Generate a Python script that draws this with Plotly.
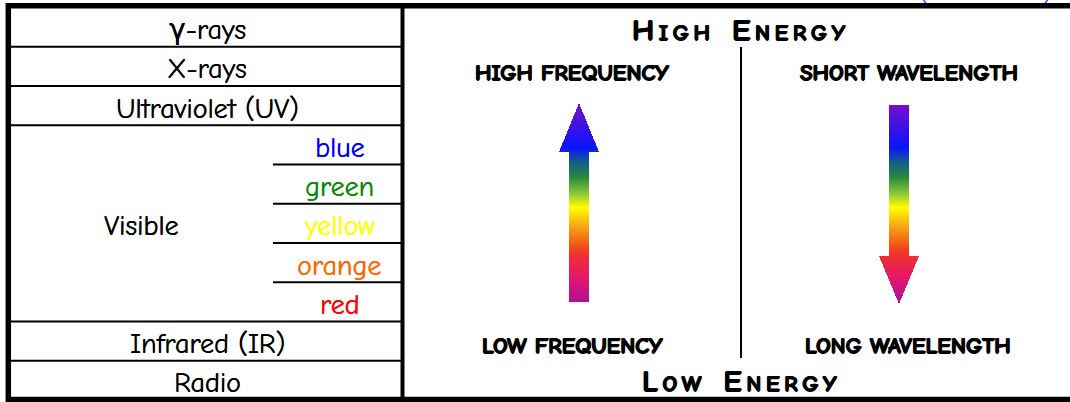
import numpy as np
import plotly.graph_objects as go

# ---------------- data ----------------
band_labels = ["γ-rays", "X-rays", "Ultraviolet (UV)", "Visible", "Infrared (IR)", "Radio"]
band_rows = [1, 1, 1, 5, 1, 1]          # number of table rows each band spans
visible_labels = ["blue", "green", "yellow", "orange", "red"]
visible_colors = ["#0000ff", "#0a8a0a", "#ffff00", "#ff6600", "#ff0000"]
top_title = "High Energy"
bottom_title = "Low Energy"
left_top, left_bottom = "HIGH FREQUENCY", "LOW FREQUENCY"
right_top, right_bottom = "SHORT WAVELENGTH", "LONG WAVELENGTH"
# rainbow gradient along arrows (position 0 = violet end, 1 = magenta end)
grad_pos = [0.0, 0.22, 0.30, 0.37, 0.45, 0.52, 0.62, 0.72, 0.76, 0.86, 1.0]
grad_col = ["#7a0fc8", "#0a14ff", "#165f8a", "#2a8a3c", "#8cc63a", "#ffff00",
            "#f8a010", "#f04a1c", "#ee3030", "#e81866", "#a8109f"]

W, H = 1070, 402
FONT = "Comic Sans MS, Comic Neue, DejaVu Sans"
BOLD_SHADOW = "0.7px 0 0 black, -0.7px 0 0 black, 0 0.5px 0 black"
SOFT_SHADOW = "0.35px 0 0 {c}"

fig = go.Figure()

# ---------------- gradient arrows (heatmaps masked to arrow shape) ----------------
def arrow_heatmap(cx, y_tail, y_base, y_tip, shaft_hw, head_hw):
    xs = np.arange(cx - head_hw, cx + head_hw) + 0.5
    y0, y1 = min(y_tail, y_tip), max(y_tail, y_tip)
    ys = np.arange(y0, y1) + 0.5
    z = np.full((len(ys), len(xs)), np.nan)
    for i, y in enumerate(ys):
        if (y_tip < y_base and y_tip <= y <= y_base) or (y_tip > y_base and y_base <= y <= y_tip):
            hw = head_hw * abs(y - y_tip) / abs(y_base - y_tip)
        else:
            hw = shaft_hw
        mask = np.abs(xs - cx) <= hw
        z[i, mask] = y
    return xs, ys, z

zmin, zmax = 103, 304
cs = [[p, c] for p, c in zip(grad_pos, grad_col)]
for args in [(579, 302, 152, 103, 10, 20), (899, 105, 256, 304, 10, 20)]:
    xs, ys, z = arrow_heatmap(*args)
    fig.add_trace(go.Heatmap(x=xs, y=ys, z=z, colorscale=cs, zmin=zmin, zmax=zmax,
                             showscale=False, hoverinfo="skip", zsmooth=False))

shapes = []
# small cropped blue outline at top right
shapes.append(dict(type="path", path="M 921 -12 Q 922 4 930 5 L 1041 5 Q 1049 4 1050 -12",
                   line=dict(color="#3050ff", width=1.5), layer="above"))
# outer frame
shapes.append(dict(type="rect", x0=8.3, y0=5.8, x1=1090, y1=399.5,
                   line=dict(color="black", width=5.5), layer="above"))
# divider between table and right panel
shapes.append(dict(type="line", x0=402.5, x1=402.5, y0=5, y1=400,
                   line=dict(color="black", width=4), layer="above"))

LSIZE = 28
row_top, row_h = 7.5, 39.25
row = 0
for lab, n in zip(band_labels, band_rows):
    yc = row_top + row_h * (row + n / 2)
    xc = 207 if n == 1 else 141
    fig.add_annotation(x=xc, y=yc + 3, text=lab, showarrow=False,
                       font=dict(family=FONT, size=LSIZE, color="black",
                                 shadow=SOFT_SHADOW.format(c="black")))
    if n > 1:
        for k, (vl, vc) in enumerate(zip(visible_labels, visible_colors)):
            yv = row_top + row_h * (row + k + 0.5)
            fig.add_annotation(x=339, y=yv + 3, text=vl, showarrow=False,
                               font=dict(family=FONT, size=LSIZE, color=vc,
                                         shadow=SOFT_SHADOW.format(c=vc)))
            if k > 0:
                yl = row_top + row_h * (row + k)
                shapes.append(dict(type="line", x0=273, x1=402, y0=yl, y1=yl,
                                   line=dict(color="black", width=2)))
    row += n
    if row < sum(band_rows):
        yl = row_top + row_h * row
        shapes.append(dict(type="line", x0=8, x1=402, y0=yl, y1=yl,
                           line=dict(color="black", width=2)))

# right panel vertical divider
shapes.append(dict(type="line", x0=741, x1=741, y0=47, y1=358,
                   line=dict(color="black", width=2)))

def small_caps(s, small):
    out = []
    for w in s.split(" "):
        letters = "\u2009".join(w.upper())
        out.append(letters[0] + f"<span style='font-size:{small}px'>" + letters[1:] + "</span>")
    return "<b>" + "\u00a0\u00a0".join(out) + "</b>"

fig.add_annotation(x=739, y=30, text=small_caps(top_title, 23), showarrow=False,
                   font=dict(family=FONT, size=31, color="black", shadow=BOLD_SHADOW))
fig.add_annotation(x=739, y=381, text=small_caps(bottom_title, 23), showarrow=False,
                   font=dict(family=FONT, size=31, color="black", shadow=BOLD_SHADOW))
for x, y, t in [(572, 72, left_top), (909, 72, right_top),
                (572, 345, left_bottom), (908, 345, right_bottom)]:
    fig.add_annotation(x=x, y=y, text="<b>" + t + "</b>", showarrow=False,
                       font=dict(family=FONT, size=23, color="black", shadow=BOLD_SHADOW))

fig.update_layout(
    width=W, height=H, margin=dict(l=0, r=0, t=0, b=0),
    paper_bgcolor="white", plot_bgcolor="white",
    xaxis=dict(range=[0, W], visible=False, fixedrange=True),
    yaxis=dict(range=[H, 0], visible=False, fixedrange=True),
    shapes=shapes, showlegend=False,
)
fig.write_html("out.html", config={"displayModeBar": False},
               post_script="document.body.style.margin='0';document.body.style.overflow='hidden';")
